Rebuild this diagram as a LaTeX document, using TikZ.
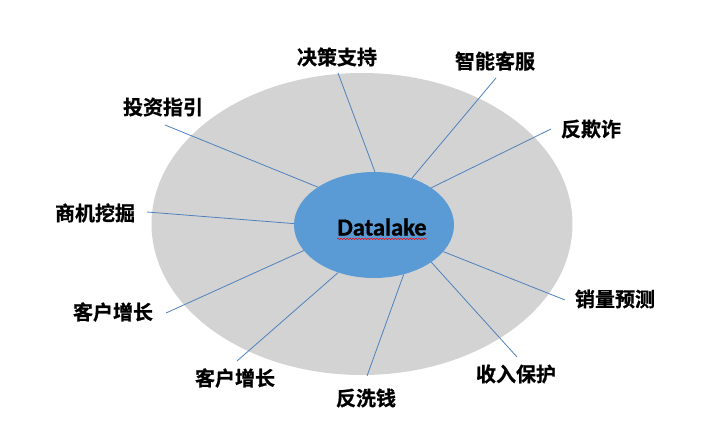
\documentclass[tikz,border=0pt]{standalone}
\usepackage{fontspec}
\newfontfamily\cjk{Noto Sans CJK SC Bold}[FakeBold=0.8]
\newfontfamily\carl{Carlito}[BoldFeatures={FakeBold=0.8}]
\usetikzlibrary{shapes.geometric,decorations.pathmorphing}
\definecolor{greyfill}{HTML}{D3D3D3}
\definecolor{lakeblue}{HTML}{5B9BD5}
\definecolor{linkblue}{HTML}{4F81BD}
\tikzset{
  lbl/.style={font=\cjk\fontsize{20}{22}\selectfont, text=black, inner sep=0pt},
  link/.style={draw=linkblue, line width=0.8pt},
}
\begin{document}
\begin{tikzpicture}[x=1pt,y=-1pt]
\useasboundingbox (0,0) rectangle (716,429);
\fill[white] (0,0) rectangle (716,429);
\node[ellipse, fill=greyfill, minimum width=421pt, minimum height=302pt, inner sep=0pt] (outer) at (362,224) {};
\node[ellipse, fill=lakeblue, minimum width=160pt, minimum height=106pt, inner sep=0pt] (dl) at (374,225) {};
\node[font=\carl\bfseries\fontsize{24.5}{26}\selectfont, inner sep=0pt] (dltext) at (382,227) {Datalake};
\draw[red, line width=0.5pt, decorate, decoration={snake, amplitude=0.8pt, segment length=3pt}] ([yshift=-3pt]dltext.south west) -- ([yshift=-3pt]dltext.south east);

\node[lbl] (t1) at (337,57) {决策支持};
\node[lbl] (t2) at (495,61) {智能客服};
\node[lbl] (t3) at (591,129) {反欺诈};
\node[lbl] (t4) at (163,107) {投资指引};
\node[lbl] (t5) at (95,213) {商机挖掘};
\node[lbl] (t6) at (113,312) {客户增长};
\node[lbl] (t7) at (235,378) {客户增长};
\node[lbl] (t8) at (366,398) {反洗钱};
\node[lbl] (t9) at (516,374) {收入保护};
\node[lbl] (t10) at (615,299) {销量预测};

\coordinate (e1) at (338,73);
\coordinate (e2) at (496,78);
\coordinate (e3) at (551,129);
\coordinate (e4) at (165,125);
\coordinate (e5) at (147,212);
\coordinate (e6) at (166,313);
\coordinate (e7) at (237,361);
\coordinate (e8) at (367,376);
\coordinate (e9) at (517,357);
\coordinate (e10) at (565,300);

\draw[link] (e1) -- (dl.89);
\draw[link] (e2) -- (dl.51);
\draw[link] (e3) -- (dl.33);
\draw[link] (e4) -- (dl.146);
\draw[link] (e5) -- (dl.179);
\draw[link] (e6) -- (dl.200);
\draw[link] (e7) -- (dl.233);
\draw[link] (e8) -- (dl.301);
\draw[link] (e9) -- (dl.327);
\draw[link] (e10) -- (dl.339);
\end{tikzpicture}
\end{document}
